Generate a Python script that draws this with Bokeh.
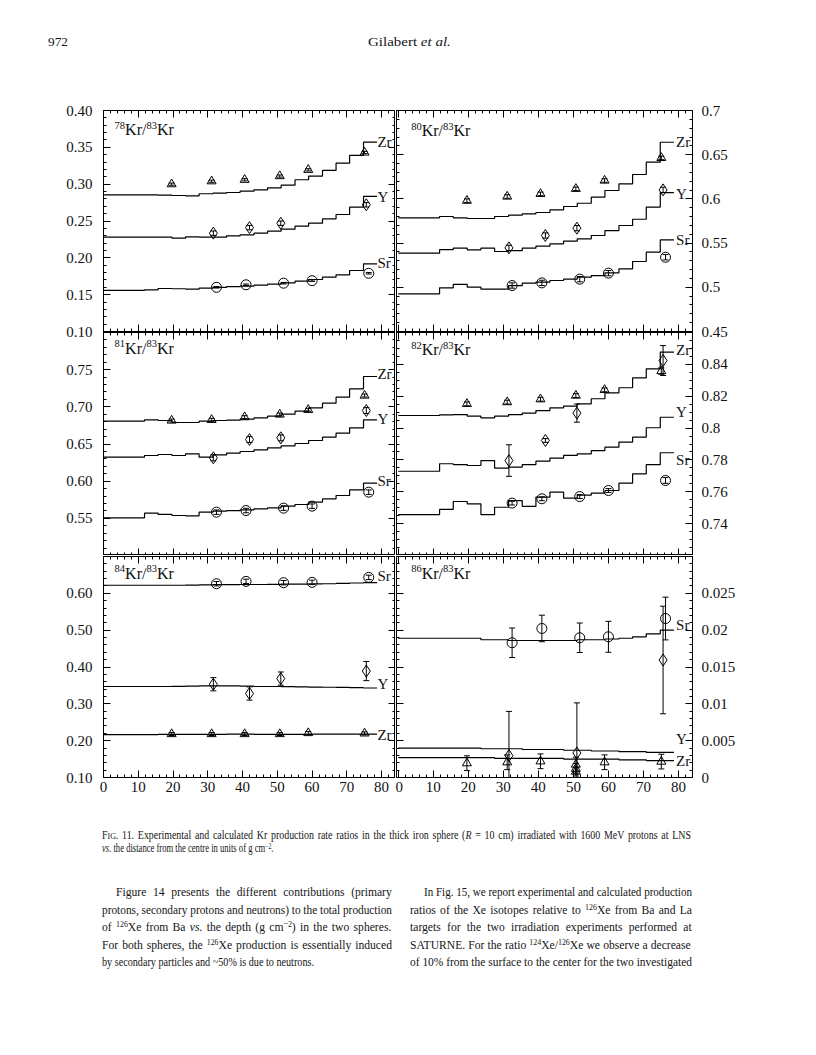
import numpy as np
from bokeh.plotting import figure
from bokeh.models import (Range1d, LinearAxis, FixedTicker, NumeralTickFormatter, Label, Div,
                          CustomLabelingPolicy)
from bokeh.layouts import column, row
from bokeh.embed import file_html
from bokeh.resources import INLINE

FONT = "Liberation Serif"

# ---------------- data ----------------
bin_edges = [0.0, 11.8, 15.7, 19.7, 23.6, 27.5, 31.5, 35.4, 39.3, 43.3, 47.2,
             51.1, 55.1, 59.0, 63.0, 66.9, 70.8, 74.8, 78.7]
x_ticks = [0, 10, 20, 30, 40, 50, 60, 70, 80]

r_zr = [19.6, 31.1, 40.6, 50.7, 58.9, 75.1]
r_y = [31.6, 42.0, 51.0, 75.6]
r_sr = [32.5, 41.0, 51.8, 60.0, 76.3]
r_y_86 = [31.6, 51.0, 75.6]
r_zr_86 = [19.6, 31.1, 40.6, 50.7, 50.7, 50.7, 58.9, 75.1]

# 78Kr/83Kr
kr78_calc_zr = [0.2855, 0.2855, 0.2850, 0.2846, 0.2840, 0.2870, 0.2878, 0.2887, 0.2905,
                0.2923, 0.2950, 0.2986, 0.3060, 0.3110, 0.3186, 0.3285, 0.3390, 0.3570]
kr78_calc_y = [0.2280, 0.2280, 0.2280, 0.2267, 0.2285, 0.2280, 0.2280, 0.2299, 0.2312,
               0.2335, 0.2362, 0.2390, 0.2430, 0.2470, 0.2530, 0.2588, 0.2688, 0.2833]
kr78_calc_sr = [0.1557, 0.1566, 0.1584, 0.1580, 0.1575, 0.1588, 0.1600, 0.1610, 0.1615,
                0.1629, 0.1643, 0.1660, 0.1683, 0.1706, 0.1738, 0.1770, 0.1828, 0.1919]
kr78_exp_zr = [0.300, 0.304, 0.306, 0.311, 0.3195, 0.343]
kr78_err_zr = [0.0015, 0.0015, 0.0015, 0.0015, 0.0015, 0.0015]
kr78_exp_y = [0.2335, 0.241, 0.247, 0.272]
kr78_err_y = [0.003, 0.003, 0.003, 0.003]
kr78_exp_sr = [0.160, 0.1634, 0.1656, 0.169, 0.179]
kr78_err_sr = [0.001, 0.001, 0.001, 0.001, 0.001]

# 80Kr/83Kr
kr80_calc_zr = [0.5786, 0.5801, 0.5786, 0.5778, 0.5778, 0.5801, 0.5816, 0.5831, 0.5846,
                0.5876, 0.5914, 0.5951, 0.6019, 0.6095, 0.6170, 0.6276, 0.6415, 0.6641]
kr80_calc_y = [0.5386, 0.5427, 0.5443, 0.5424, 0.5443, 0.5405, 0.5416, 0.5443, 0.5465,
               0.5492, 0.5522, 0.5548, 0.5586, 0.5642, 0.5699, 0.5770, 0.5906, 0.6072]
kr80_calc_sr = [0.4926, 0.4994, 0.5032, 0.5001, 0.4979, 0.4979, 0.5020, 0.5047, 0.5058,
                0.5077, 0.5092, 0.5115, 0.5133, 0.5164, 0.5209, 0.5292, 0.5397, 0.5537]
kr80_exp_zr = [0.598, 0.6027, 0.6057, 0.6114, 0.6208, 0.6464]
kr80_err_zr = [0.002, 0.002, 0.002, 0.002, 0.002, 0.002]
kr80_exp_y = [0.5446, 0.5586, 0.5669, 0.6102]
kr80_err_y = [0.003, 0.003, 0.003, 0.003]
kr80_exp_sr = [0.502, 0.505, 0.5092, 0.516, 0.534]
kr80_err_sr = [0.003, 0.003, 0.003, 0.003, 0.003]

# 81Kr/83Kr
kr81_calc_zr = [0.6807, 0.6825, 0.6816, 0.6789, 0.6789, 0.6807, 0.6816, 0.6820, 0.6834,
                0.6852, 0.6874, 0.6901, 0.6942, 0.6986, 0.7049, 0.7130, 0.7242, 0.7408]
kr81_calc_y = [0.6323, 0.6345, 0.6359, 0.6345, 0.6368, 0.6323, 0.6354, 0.6377, 0.6399,
               0.6421, 0.6448, 0.6475, 0.6507, 0.6547, 0.6592, 0.6646, 0.6717, 0.6825]
kr81_calc_sr = [0.5507, 0.5569, 0.5552, 0.5538, 0.5534, 0.5583, 0.5596, 0.5605, 0.5614,
                0.5628, 0.5641, 0.5664, 0.5686, 0.5717, 0.5762, 0.5807, 0.5883, 0.5973]
kr81_exp_zr = [0.6816, 0.6825, 0.6861, 0.6897, 0.696, 0.7152]
kr81_err_zr = [0.002, 0.002, 0.002, 0.002, 0.002, 0.002]
kr81_exp_y = [0.6314, 0.656, 0.6583, 0.695]
kr81_err_y = [0.004, 0.004, 0.004, 0.004]
kr81_exp_sr = [0.5583, 0.5605, 0.5637, 0.5664, 0.5852]
kr81_err_sr = [0.003, 0.003, 0.003, 0.003, 0.003]

# 82Kr/83Kr
kr82_calc_zr = [0.8079, 0.8083, 0.8085, 0.8075, 0.8064, 0.8075, 0.8085, 0.8094, 0.8110,
                0.8127, 0.8138, 0.8152, 0.8184, 0.8221, 0.8253, 0.8315, 0.8372, 0.8477]
kr82_calc_y = [0.7729, 0.7776, 0.7771, 0.7765, 0.7796, 0.7748, 0.7755, 0.7771, 0.7792,
               0.7811, 0.7828, 0.7838, 0.7859, 0.7880, 0.7912, 0.7943, 0.8002, 0.8068]
kr82_calc_sr = [0.7457, 0.7489, 0.7539, 0.7524, 0.7457, 0.7503, 0.7545, 0.7508, 0.7566,
                0.7598, 0.7560, 0.7579, 0.7591, 0.7608, 0.7654, 0.7713, 0.7771, 0.7845]
kr82_exp_zr = [0.8152, 0.8163, 0.8181, 0.8204, 0.824, 0.8358]
kr82_err_zr = [0.0012, 0.0012, 0.0012, 0.0012, 0.0012, 0.002]
kr82_exp_y = [0.7796, 0.7922, 0.8094, 0.8424]
kr82_err_y = [0.0099, 0.0012, 0.0057, 0.0094]
kr82_exp_sr = [0.7529, 0.7556, 0.757, 0.7608, 0.7671]
kr82_err_sr = [0.0012, 0.0012, 0.0012, 0.0012, 0.0018]

# 84Kr/83Kr
kr84_calc_zr = [0.2165, 0.2165, 0.2170, 0.2170, 0.2170, 0.2170, 0.2170, 0.2175, 0.2175,
                0.2170, 0.2170, 0.2170, 0.2170, 0.2175, 0.2175, 0.2180, 0.2180, 0.2180]
kr84_calc_y = [0.3470, 0.3470, 0.3470, 0.3475, 0.3480, 0.3490, 0.3490, 0.3485, 0.3480,
               0.3470, 0.3470, 0.3465, 0.3460, 0.3455, 0.3450, 0.3445, 0.3440, 0.3430]
kr84_calc_sr = [0.6220, 0.6220, 0.6220, 0.6220, 0.6225, 0.6230, 0.6235, 0.6235, 0.6240,
                0.6240, 0.6245, 0.6250, 0.6250, 0.6255, 0.6260, 0.6270, 0.6280, 0.6290]
kr84_exp_zr = [0.218, 0.218, 0.218, 0.218, 0.2207, 0.2198]
kr84_err_zr = [0.004, 0.004, 0.004, 0.004, 0.004, 0.004]
kr84_exp_y = [0.3532, 0.328, 0.3685, 0.389]
kr84_err_y = [0.018, 0.018, 0.018, 0.026]
kr84_exp_sr = [0.626, 0.6325, 0.6289, 0.6298, 0.6433]
kr84_err_sr = [0.006, 0.006, 0.006, 0.006, 0.006]

# 86Kr/83Kr
kr86_calc_zr = [0.0027, 0.0027, 0.0027, 0.0027, 0.0027, 0.0026, 0.0026, 0.0026, 0.0026,
                0.0026, 0.0025, 0.0025, 0.0025, 0.0025, 0.0024, 0.0024, 0.0023, 0.0023]
kr86_calc_y = [0.0040, 0.0040, 0.0040, 0.0040, 0.0039, 0.0039, 0.0039, 0.0038, 0.0038,
               0.0038, 0.0037, 0.0037, 0.0036, 0.0036, 0.0035, 0.0035, 0.0034, 0.0034]
kr86_calc_sr = [0.0189, 0.0189, 0.0189, 0.0189, 0.0187, 0.0187, 0.0186, 0.0186, 0.0186,
                0.0186, 0.0186, 0.0187, 0.0187, 0.0188, 0.0189, 0.0191, 0.0195, 0.0200]
kr86_exp_zr = [0.00194, 0.00207, 0.0022, 0.00176, 0.0012, 0.0008, 0.00207, 0.00216]
kr86_err_zr = [0.001, 0.001, 0.001, 0.001, 0.0007, 0.0006, 0.001, 0.001]
kr86_exp_y = [0.00297, 0.00333, 0.01595]
kr86_err_y = [0.006, 0.0068, 0.0073]
kr86_exp_sr = [0.01829, 0.02023, 0.01897, 0.0191, 0.02158]
kr86_err_sr = [0.002, 0.0018, 0.002, 0.0021, 0.0029]

# y tick labels per panel
kr78_yticks = [0.10, 0.15, 0.20, 0.25, 0.30, 0.35, 0.40]
kr80_yticks = [0.45, 0.50, 0.55, 0.60, 0.65, 0.70]
kr81_yticks = [0.55, 0.60, 0.65, 0.70, 0.75]
kr82_yticks = [0.74, 0.76, 0.78, 0.80, 0.82, 0.84]
kr84_yticks = [0.10, 0.20, 0.30, 0.40, 0.50, 0.60]
kr86_yticks = [0.0, 0.005, 0.010, 0.015, 0.020, 0.025]

# ---------------- layout / style ----------------
XR = {0: (0.0, 84.0), 1: (-0.5, 84.0)}
FW = {0: 292, 1: 296}
FH = [221, 223, 221]
MBT = [10, 1, 1]
MBB = [10, 0, 45]
HIDE = CustomLabelingPolicy(code="return []")


def minor_list(lo, hi, step):
    n = int(round((hi - lo) / step))
    return [round(lo + i * step, 6) for i in range(n + 1)]


def add_axis(p, side, ticker, labels, fmt=None, standoff=5):
    ax = LinearAxis(ticker=ticker, major_tick_in=7, major_tick_out=0,
                    minor_tick_in=3, minor_tick_out=0,
                    axis_line_color="black", major_tick_line_color="black",
                    minor_tick_line_color="black",
                    major_label_text_font=FONT,
                    major_label_text_color="#111111",
                    major_label_text_font_size="15px" if labels else "0px",
                    major_label_standoff=standoff if labels else 0)
    if not labels:
        ax.major_label_policy = HIDE
    if fmt is not None:
        ax.formatter = fmt
    p.add_layout(ax, side)


def add_series(p, calc, rx, ry, rerr, marker, msize):
    p.step(x=bin_edges, y=list(calc) + [calc[-1]], mode="after",
           line_color="black", line_width=1.2)
    lo = [v - e for v, e in zip(ry, rerr)]
    hi = [v + e for v, e in zip(ry, rerr)]
    p.segment(x0=rx, y0=lo, x1=rx, y1=hi, line_color="black", line_width=1)
    p.scatter(x=list(rx) + list(rx), y=lo + hi, marker="dash", size=6,
              line_color="black", line_width=1)
    p.scatter(x=rx, y=ry, marker=marker, size=msize, line_color="black",
              fill_alpha=0, line_width=1)


def add_title(p, x, y, iso):
    pieces = [(iso, 10.5, 0.0, 4.5), ("Kr/", 16, 10.5, 0.0),
              ("83", 10.5, 31.8, 4.5), ("Kr", 16, 42.3, 0.0)]
    for txt, fs, xo, yo in pieces:
        p.add_layout(Label(x=x, y=y, x_offset=xo, y_offset=yo, text=txt, text_font=FONT,
                           text_font_size="%.1fpx" % fs, text_align="left",
                           text_baseline="middle", text_color="#111111"))


panels = [
    dict(r=0, c=0, iso="78", yr=(0.10, 0.40), yt=kr78_yticks, ym=0.01,
         calc=(kr78_calc_sr, kr78_calc_y, kr78_calc_zr),
         exp=((r_sr, kr78_exp_sr, kr78_err_sr), (r_y, kr78_exp_y, kr78_err_y), (r_zr, kr78_exp_zr, kr78_err_zr)),
         lab_y=(0.193, 0.282, 0.357), title_y=0.374),
    dict(r=0, c=1, iso="80", yr=(0.45, 0.70), yt=kr80_yticks, ym=0.01,
         calc=(kr80_calc_sr, kr80_calc_y, kr80_calc_zr),
         exp=((r_sr, kr80_exp_sr, kr80_err_sr), (r_y, kr80_exp_y, kr80_err_y), (r_zr, kr80_exp_zr, kr80_err_zr)),
         lab_y=(0.554, 0.605, 0.664), title_y=0.677),
    dict(r=1, c=0, iso="81", yr=(0.50, 0.80), yt=kr81_yticks, ym=0.01,
         calc=(kr81_calc_sr, kr81_calc_y, kr81_calc_zr),
         exp=((r_sr, kr81_exp_sr, kr81_err_sr), (r_y, kr81_exp_y, kr81_err_y), (r_zr, kr81_exp_zr, kr81_err_zr)),
         lab_y=(0.600, 0.684, 0.744), title_y=0.7785),
    dict(r=1, c=1, iso="82", yr=(0.72, 0.86), yt=kr82_yticks, ym=0.005,
         calc=(kr82_calc_sr, kr82_calc_y, kr82_calc_zr),
         exp=((r_sr, kr82_exp_sr, kr82_err_sr), (r_y, kr82_exp_y, kr82_err_y), (r_zr, kr82_exp_zr, kr82_err_zr)),
         lab_y=(0.780, 0.810, 0.849), title_y=0.8493),
    dict(r=2, c=0, iso="84", yr=(0.10, 0.70), yt=kr84_yticks, ym=0.02,
         calc=(kr84_calc_sr, kr84_calc_y, kr84_calc_zr),
         exp=((r_sr, kr84_exp_sr, kr84_err_sr), (r_y, kr84_exp_y, kr84_err_y), (r_zr, kr84_exp_zr, kr84_err_zr)),
         lab_y=(0.646, 0.353, 0.216), title_y=0.654),
    dict(r=2, c=1, iso="86", yr=(0.0, 0.03), yt=kr86_yticks, ym=0.001,
         calc=(kr86_calc_sr, kr86_calc_y, kr86_calc_zr),
         exp=((r_sr, kr86_exp_sr, kr86_err_sr), (r_y_86, kr86_exp_y, kr86_err_y), (r_zr_86, kr86_exp_zr, kr86_err_zr)),
         lab_y=(0.0207, 0.0052, 0.0023), title_y=0.0277),
]

figs = {}
for pd_ in panels:
    r, c = pd_["r"], pd_["c"]
    p = figure(frame_width=FW[c], frame_height=FH[r],
               x_range=Range1d(*XR[c]), y_range=Range1d(*pd_["yr"]),
               output_backend="svg", toolbar_location=None,
               x_axis_location=None, y_axis_location=None,
               min_border_left=103 if c == 0 else 1,
               min_border_right=0 if c == 0 else 60,
               min_border_top=MBT[r], min_border_bottom=MBB[r],
               outline_line_color="black", outline_line_width=1,
               border_fill_alpha=0, background_fill_color="white")
    p.grid.visible = False
    if r == 1:
        p.margin = (-10, 0, 0, 0)

    xt = FixedTicker(ticks=x_ticks, minor_ticks=minor_list(0, 84, 2))
    lo_, hi_ = pd_["yr"]
    yt = FixedTicker(ticks=pd_["yt"], minor_ticks=minor_list(lo_, hi_, pd_["ym"]))
    add_axis(p, "below", xt, r == 2, standoff=4)
    add_axis(p, "above", xt, False)
    if c == 0:
        add_axis(p, "left", yt, True, NumeralTickFormatter(format="0.00"), standoff=11)
        add_axis(p, "right", yt, False)
    else:
        add_axis(p, "left", yt, False)
        add_axis(p, "right", yt, True, NumeralTickFormatter(format="0.[000]"), standoff=9)

    sr_calc, y_calc, zr_calc = pd_["calc"]
    (sx, sv, se), (yx, yv, ye), (zx, zv, ze) = pd_["exp"]
    add_series(p, sr_calc, sx, sv, se, "circle", 10)
    add_series(p, y_calc, yx, yv, ye, "diamond", 12)
    add_series(p, zr_calc, zx, zv, ze, "triangle", 9)

    lx = 78.8 if c == 0 else 79.3
    for name, ly in zip(("Sr", "Y", "Zr"), pd_["lab_y"]):
        p.add_layout(Label(x=lx, y=ly, text=name, text_font=FONT, text_font_size="15px",
                           text_align="left", text_baseline="middle", text_color="#111111"))
    add_title(p, 3.2 if c == 0 else 3.7, pd_["title_y"], pd_["iso"])
    if r == 2:
        span = hi_ - lo_
        p.add_layout(Label(x=66.7 if c == 0 else 70.6, y=lo_ - 0.137 * span,
                           text="r (g/cm²)", text_font=FONT, text_font_size="15px",
                           text_align="center", text_baseline="middle", text_color="#111111"))
    figs[(r, c)] = p

left_col = column(figs[(0, 0)], figs[(1, 0)], figs[(2, 0)], spacing=0)
right_col = column(figs[(0, 1)], figs[(1, 1)], figs[(2, 1)], spacing=0)
plots = row(left_col, right_col, spacing=0)

# ---------------- page text (HTML lines, condensed glyphs, justified by word spacing) ----------------
TW = {' ': 250, '%': 833, '(': 333, ')': 333, ',': 250, '-': 333, '.': 250, '/': 278,
      ':': 278, ';': 278, '=': 564, '~': 541, '\u2212': 564, '\u00b2': 300,
      'A': 722, 'B': 667, 'C': 667, 'D': 722, 'E': 611, 'F': 556, 'G': 722, 'H': 722,
      'I': 333, 'J': 389, 'K': 722, 'L': 611, 'M': 889, 'N': 722, 'O': 722, 'P': 556,
      'Q': 722, 'R': 667, 'S': 556, 'T': 611, 'U': 722, 'V': 722, 'W': 944, 'X': 722,
      'Y': 722, 'Z': 611, 'a': 444, 'b': 500, 'c': 444, 'd': 500, 'e': 444, 'f': 333,
      'g': 500, 'h': 500, 'i': 278, 'j': 278, 'k': 500, 'l': 278, 'm': 778, 'n': 500,
      'o': 500, 'p': 500, 'q': 500, 'r': 333, 's': 389, 't': 278, 'u': 500, 'v': 500,
      'w': 722, 'x': 500, 'y': 500, 'z': 444}
for d in "0123456789":
    TW[d] = 500
FACT = {"n": 1.0, "i": 1.0, "s": 0.68, "sc": 0.8}
ASC = 0.891
GLYPH_SCALE = 0.86


def seg_html(txt, kind):
    if kind == "i":
        return "<i>%s</i>" % txt
    if kind == "s":
        return ('<span style="font-size:0.68em;line-height:0;vertical-align:0.42em;">%s</span>' % txt)
    if kind == "sc":
        return '<span style="font-size:0.8em;">%s</span>' % txt
    return txt


def hline(x, base, width, fs, segs, justify=False):
    natural = sum(sum(TW.get(ch, 500) for ch in t) * fs * FACT[k] / 1000.0 for t, k in segs)
    nsp = sum(t.count(" ") for t, k in segs if k != "s")
    if justify:
        sc = min(GLYPH_SCALE, width / natural)
        ws = (width - natural * sc) / (sc * nsp) if nsp else 0.0
    else:
        sc = width / natural
        ws = 0.0
    top = base - ASC * fs
    html = "".join(seg_html(t, k) for t, k in segs)
    return ('<div style="position:absolute;left:%.1fpx;top:%.1fpx;white-space:nowrap;'
            'transform:scaleX(%.4f);transform-origin:0 0;font-family:\'Liberation Serif\',serif;'
            'word-spacing:%.2fpx;font-size:%.1fpx;line-height:%.1fpx;color:#151515;">%s</div>'
            % (x, top, sc, ws, fs, fs, html))


header_html = ('<div style="position:relative;width:800px;height:100px;">'
               + hline(48, 47, 20, 13.5, [("972", "n")])
               + hline(368, 47, 82, 13.5, [("Gilabert ", "n"), ("et al.", "i")])
               + '</div>')
header = Div(text=header_html, width=800, height=100, margin=(0, 0, 0, 0))

cap1 = [("F", "n"), ("IG", "sc"), (". 11. Experimental and calculated Kr production rate ratios "
        "in the thick iron sphere (", "n"), ("R", "i"),
        (" = 10 cm) irradiated with 1600 MeV protons at LNS", "n")]
cap2 = [("vs.", "i"), (" the distance from the centre in units of g cm", "n"), ("\u22122", "s"), (".", "n")]
left_lines = [
    [("Figure 14 presents the different contributions (primary", "n")],
    [("protons, secondary protons and neutrons) to the total production", "n")],
    [("of ", "n"), ("126", "s"), ("Xe from Ba ", "n"), ("vs.", "i"), (" the depth (g cm", "n"),
     ("\u22122", "s"), (") in the two spheres.", "n")],
    [("For both spheres, the ", "n"), ("126", "s"), ("Xe production is essentially induced", "n")],
    [("by secondary particles and ~50% is due to neutrons.", "n")],
]
right_lines = [
    [("In Fig. 15, we report experimental and calculated production", "n")],
    [("ratios of the Xe isotopes relative to ", "n"), ("126", "s"), ("Xe from Ba and La", "n")],
    [("targets for the two irradiation experiments performed at", "n")],
    [("SATURNE. For the ratio ", "n"), ("124", "s"), ("Xe/", "n"), ("126", "s"),
     ("Xe we observe a decrease", "n")],
    [("of 10% from the surface to the center for the two investigated", "n")],
]
Y0 = 822
parts = [hline(102, 840 - Y0, 590, 11.5, cap1, justify=True),
         hline(102, 853 - Y0, 172, 11.5, cap2)]
baselines = [896.5, 914.5, 932.0, 949.5, 966.5]
left_w = [276, 290, 290, 290, 212]
for i, (lt, rt) in enumerate(zip(left_lines, right_lines)):
    ind = 14 if i == 0 else 0
    parts.append(hline(102 + ind, baselines[i] - Y0, left_w[i], 13.5, lt, justify=(i < 4)))
    parts.append(hline(410 + ind, baselines[i] - Y0, 282 - ind, 13.5, rt, justify=True))
body_html = '<div style="position:relative;width:800px;height:170px;">' + "".join(parts) + '</div>'
body = Div(text=body_html, width=800, height=170, margin=(0, 0, 0, 0))

page = column(header, plots, body, spacing=0)

open("out.html", "w").write(file_html(page, INLINE))
